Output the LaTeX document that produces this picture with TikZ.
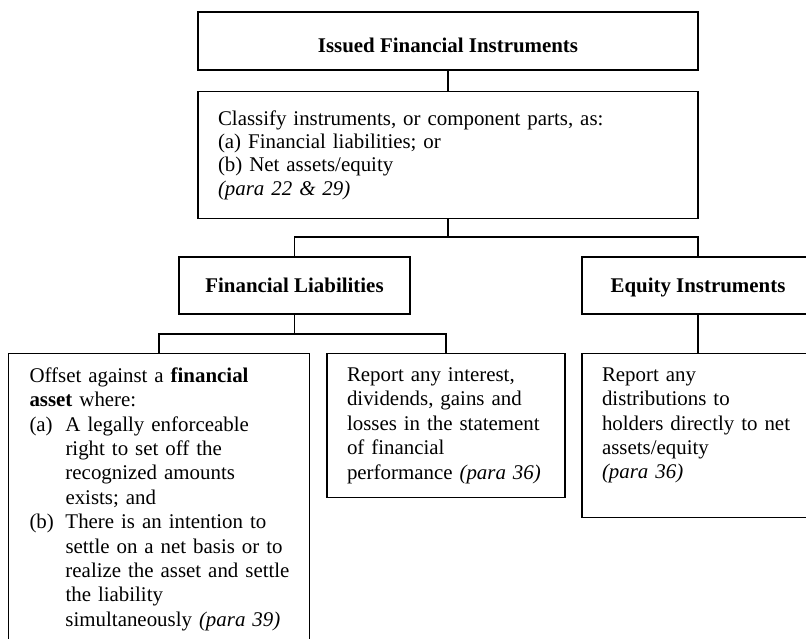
\documentclass[tikz,border=0pt]{standalone}
\usepackage{fontspec}
\setmainfont{Liberation Serif}
\setlength{\parindent}{0pt}
\newcommand{\pararef}[1]{\textit{(para #1)}}
\tikzset{
  headbox/.style={draw, line width=1.3pt, font=\fontsize{20.9}{24.4}\selectfont\bfseries, minimum height=57pt, inner sep=0pt, text height=14.5pt, text depth=0pt},
  textbox/.style={draw, line width=1.3pt, font=\fontsize{20.9}{24.4}\selectfont, align=left, inner xsep=20pt, inner ysep=14pt, anchor=north},
  link/.style={line width=1.3pt}
}
\begin{document}
\begin{tikzpicture}[x=1pt,y=-1pt]
  \useasboundingbox (0,0) rectangle (806,639);
  \clip (0,0) rectangle (806,639);
  % top level
  \node[headbox, minimum width=500pt, minimum height=58pt, text height=24pt] (issued) at (448,41) {Issued Financial Instruments};
  \node[textbox, text width=460pt, minimum height=127pt, font=\fontsize{20.9}{23.4}\selectfont] (classify) at (448,91)
    {Classify instruments, or component parts, as:\\(a) Financial liabilities; or\\(b) Net assets/equity\\\pararef{22 \& 29}};
  % the two classes
  \node[headbox, minimum width=231pt] (liab) at (294.5,285.5) {Financial Liabilities};
  \node[headbox, minimum width=232pt] (equity) at (698,285.5) {Equity Instruments};
  % what to do with each
  \node[textbox, text width=259pt, inner xsep=21pt] (offset) at (159,353)
    {Offset against a \textbf{financial}\newline\textbf{asset} where:\par
     \hangindent=36pt\hangafter=1\makebox[36pt][l]{(a)}A legally enforceable\newline right to set off the\newline recognized amounts\newline exists; and\par
     \hangindent=36pt\hangafter=1\makebox[36pt][l]{(b)}There is an intention to\newline settle on a net basis or to\newline \mbox{realize the asset and settle}\newline the liability\newline \mbox{simultaneously \pararef{39}}\par};
  \node[textbox, text width=198pt] (report) at (446,353)
    {Report any interest,\\dividends, gains and\\losses in the statement\\of financial\\performance \pararef{36}};
  \node[textbox, text width=192pt] (distrib) at (698,353)
    {Report any\\distributions to\\holders directly to net\\assets/equity\\\pararef{36}\\\mbox{}};
  % connectors
  \coordinate (split) at (448,237);
  \coordinate (fork) at (294.5,334);
  \draw[link] (issued) -- (classify);
  \draw[link] (classify.south) -- (split);
  \draw[link] (liab.north) |- (split) -| (equity.north);
  \draw[link] (liab.south) -- (fork);
  \draw[link] (offset.north) |- (fork) -| (report.north);
  \draw[link] (equity) -- (distrib);
\end{tikzpicture}
\end{document}
